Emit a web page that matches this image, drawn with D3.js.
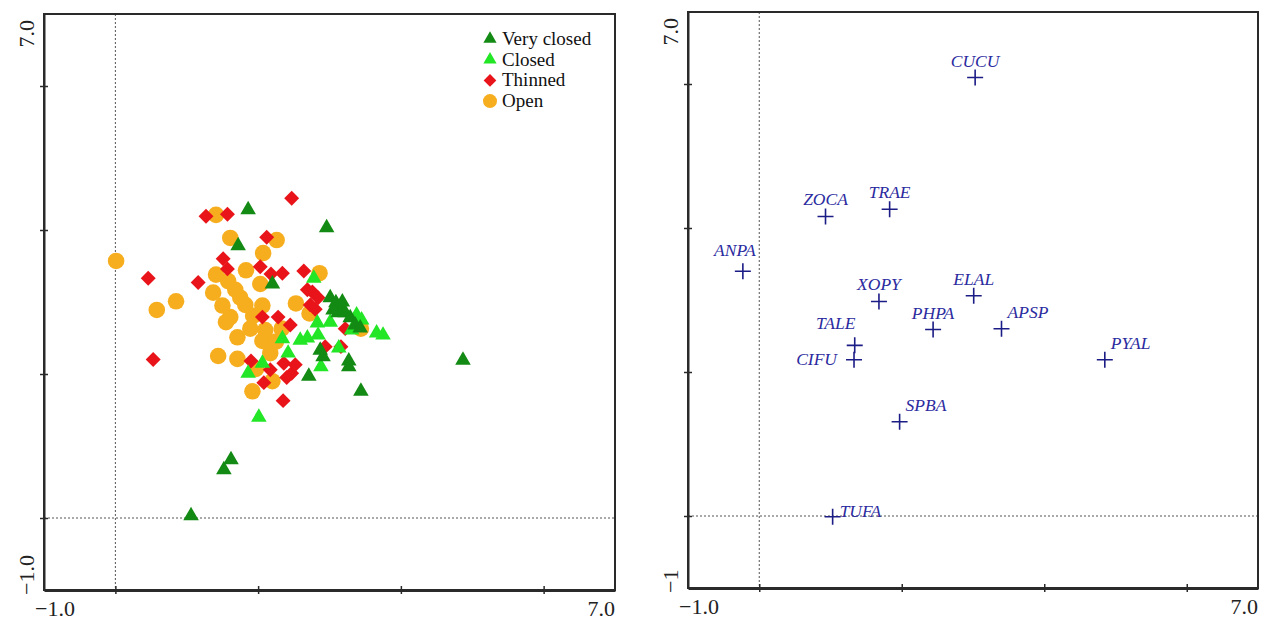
<!DOCTYPE html>
<html>
<head>
<meta charset="utf-8">
<script src="https://cdn.jsdelivr.net/npm/d3@7"></script>
<style>
  body { margin: 0; background: #fff; }
  svg { display: block; }
</style>
</head>
<body>
<div id="wrapper"></div>
<script>
// sample scores per group, [axis1, axis2]
const openPts = [
  [0.01, 3.57], [1.41, 4.21], [1.61, 3.89], [2.26, 3.86], [2.07, 3.68], [1.83, 3.44],
  [1.41, 3.38], [1.58, 3.29], [2.03, 3.25], [1.37, 3.13], [0.85, 3.01], [0.58, 2.89],
  [1.75, 3.06], [1.61, 2.79], [2.06, 2.95], [1.93, 2.81], [1.71, 2.51], [1.89, 2.63],
  [2.06, 2.46], [2.17, 2.29], [1.44, 2.25], [1.71, 2.21], [1.97, 2.07], [1.92, 1.76],
  [2.20, 1.90], [2.86, 3.40], [2.53, 2.98], [2.72, 2.84], [2.33, 2.63], [3.44, 2.63],
  [1.55, 2.72], [1.82, 2.96], [1.68, 3.17], [2.10, 2.61], [1.50, 2.95], [2.25, 2.45]
]
const thinnedPts = [
  [2.47, 4.44], [1.27, 4.19], [1.57, 4.22], [2.12, 3.90], [1.51, 3.60], [1.57, 3.46],
  [2.03, 3.49], [2.18, 3.39], [2.34, 3.40], [0.46, 3.33], [1.16, 3.27], [2.64, 3.43],
  [0.53, 2.20], [2.35, 1.63], [2.08, 1.88], [2.47, 2.01], [2.36, 2.15], [1.90, 2.18],
  [2.76, 3.14], [2.73, 2.96], [2.84, 3.06], [2.28, 2.79], [2.45, 2.68], [2.06, 2.79],
  [3.22, 2.63], [2.94, 2.38], [3.16, 2.38], [2.69, 3.17], [2.52, 2.13], [2.17, 2.06],
  [2.80, 2.90], [2.40, 1.95]
]
const closedPts = [
  [2.01, 1.40], [3.75, 2.54], [3.66, 2.57], [2.78, 3.33], [2.34, 2.49], [2.42, 2.29],
  [1.86, 2.01], [2.83, 2.71], [2.69, 2.50], [2.88, 2.10], [3.13, 2.36], [3.38, 2.82],
  [3.31, 2.61], [3.01, 2.72], [2.59, 2.47], [2.84, 2.54], [2.06, 2.15], [3.45, 2.75]
]
const veryClosedPts = [
  [1.86, 4.28], [2.96, 4.03], [1.72, 3.78], [2.20, 3.25], [4.87, 2.19], [3.44, 1.76],
  [2.71, 1.97], [3.27, 2.18], [3.27, 2.10], [1.62, 0.81], [1.52, 0.67], [1.06, 0.03],
  [3.01, 3.06], [3.09, 2.99], [3.15, 2.92], [3.22, 2.85], [3.29, 2.78], [3.12, 2.85],
  [3.36, 2.68], [3.43, 2.64], [3.05, 2.89], [2.91, 2.24], [2.87, 2.33], [3.18, 3.00]
]

// species scores
const species = ["CUCU", "ZOCA", "TRAE", "ANPA", "XOPY", "ELAL", "PHPA", "APSP", "TALE", "CIFU", "PYAL", "SPBA", "TUFA"]
const speciesX = [3.03, 0.93, 1.83, -0.23, 1.68, 3.01, 2.44, 3.40, 1.34, 1.33, 4.85, 1.97, 1.03]
const speciesY = [6.09, 4.16, 4.26, 3.40, 2.98, 3.06, 2.59, 2.60, 2.37, 2.17, 2.17, 1.31, -0.01]

const groupNames = ["Very closed", "Closed", "Thinned", "Open"]
const axisDomain = [-1, 7]
const tickValues = [0, 2, 4, 6]

// where each species label sits relative to its cross
const labelPlace = {
  CUCU: "above", ZOCA: "above", TRAE: "above", ANPA: "aboveLeft", XOPY: "above",
  ELAL: "above", PHPA: "above", APSP: "aboveRight", TALE: "aboveLeft2", CIFU: "left",
  PYAL: "aboveRight", SPBA: "aboveRight", TUFA: "right"
}

const groupStyle = {
  "Very closed": { color: "#138a13", shape: "triangle" },
  "Closed": { color: "#22e626", shape: "triangle" },
  "Thinned": { color: "#e8141a", shape: "diamond" },
  "Open": { color: "#f7ae1e", shape: "circle" },
}

const serif = "Liberation Serif"

const svg = d3.select("#wrapper").append("svg")
  .attr("width", 1263)
  .attr("height", 623)

function drawFrame(box, bottomLabels, leftLabels) {
  const xScale = d3.scaleLinear().domain(axisDomain).range([box.left, box.right])
  const yScale = d3.scaleLinear().domain(axisDomain).range([box.bottom, box.top])
  const g = svg.append("g")

  // dotted zero lines
  g.append("line")
    .attr("x1", xScale(0)).attr("x2", xScale(0))
    .attr("y1", box.top).attr("y2", box.bottom)
    .attr("stroke", "#555").attr("stroke-width", 1).attr("stroke-dasharray", "2,2")
  g.append("line")
    .attr("x1", box.left).attr("x2", box.right)
    .attr("y1", yScale(0)).attr("y2", yScale(0))
    .attr("stroke", "#555").attr("stroke-width", 1).attr("stroke-dasharray", "2,2")

  g.append("rect")
    .attr("x", box.left).attr("y", box.top)
    .attr("width", box.right - box.left).attr("height", box.bottom - box.top)
    .attr("fill", "none").attr("stroke", "#2a2a2a").attr("stroke-width", 2)

  const xAxis = g.append("g")
    .attr("transform", `translate(0,${box.bottom})`)
    .call(d3.axisBottom(xScale).tickValues(tickValues).tickFormat("").tickSize(4).tickSizeOuter(0))
  xAxis.select(".domain").attr("stroke", "#2a2a2a").attr("stroke-width", 3)
  xAxis.selectAll(".tick line").attr("y1", -4).attr("stroke", "#2a2a2a").attr("stroke-width", 1.5)

  const yAxis = g.append("g")
    .attr("transform", `translate(${box.left},0)`)
    .call(d3.axisLeft(yScale).tickValues(tickValues).tickFormat("").tickSize(4).tickSizeOuter(0))
  yAxis.select(".domain").attr("stroke", "#2a2a2a").attr("stroke-width", 2)
  yAxis.selectAll(".tick line").attr("x1", 4).attr("stroke", "#2a2a2a").attr("stroke-width", 1.5)

  // end labels
  g.append("text")
    .attr("x", box.left - 9).attr("y", box.bottom + 26)
    .attr("font-family", serif).attr("font-size", 22).attr("fill", "#222")
    .text(bottomLabels[0])
  g.append("text")
    .attr("x", box.right).attr("y", box.bottom + 26)
    .attr("text-anchor", "end")
    .attr("font-family", serif).attr("font-size", 22).attr("fill", "#222")
    .text(bottomLabels[1])
  g.append("text")
    .attr("transform", `translate(${box.left - 10},${box.top + 6}) rotate(-90)`)
    .attr("text-anchor", "end")
    .attr("font-family", serif).attr("font-size", 22).attr("fill", "#222")
    .text(leftLabels[1])
  g.append("text")
    .attr("transform", `translate(${box.left - 10},${box.bottom + 5}) rotate(-90)`)
    .attr("font-family", serif).attr("font-size", 22).attr("fill", "#222")
    .text(leftLabels[0])

  return { xScale, yScale, g }
}

// left panel: samples
const left = drawFrame({ left: 44, right: 615, top: 14, bottom: 590 }, ["\u22121.0", "7.0"], ["\u22121.0", "7.0"])

const symbolFor = (shape, scale) => {
  if (shape === "circle") return d3.symbol(d3.symbolCircle, 215 * scale)()
  if (shape === "diamond") return d3.symbol(d3.symbolSquare, 112 * scale)()
  return d3.symbol(d3.symbolTriangle, 105 * scale)()
}

const groups = [
  { name: "Open", pts: openPts },
  { name: "Thinned", pts: thinnedPts },
  { name: "Closed", pts: closedPts },
  { name: "Very closed", pts: veryClosedPts },
]

groups.forEach(grp => {
  const st = groupStyle[grp.name]
  left.g.append("g").selectAll("path")
    .data(grp.pts)
    .join("path")
    .attr("d", symbolFor(st.shape, 1))
    .attr("transform", d => `translate(${left.xScale(d[0])},${left.yScale(d[1])})${st.shape === "diamond" ? " rotate(45)" : ""}`)
    .attr("fill", st.color)
})

// legend
const legend = left.g.append("g")
groupNames.forEach((name, i) => {
  const st = groupStyle[name]
  const y = 39 + i * 20.7
  legend.append("path")
    .attr("d", symbolFor(st.shape, 0.72))
    .attr("transform", `translate(490,${y})${st.shape === "diamond" ? " rotate(45)" : ""}`)
    .attr("fill", st.color)
  legend.append("text")
    .attr("x", 502).attr("y", y + 6)
    .attr("font-family", serif).attr("font-size", 19).attr("fill", "#111")
    .text(name)
})

// right panel: species
const right = drawFrame({ left: 688, right: 1258, top: 12, bottom: 588 }, ["\u22121.0", "7.0"], ["\u22121", "7.0"])

const spData = species.map((s, i) => ({ name: s, x: speciesX[i], y: speciesY[i] }))

right.g.append("g").selectAll("path")
  .data(spData)
  .join("path")
  .attr("d", d => {
    const cx = right.xScale(d.x), cy = right.yScale(d.y)
    return `M${cx - 8},${cy}H${cx + 8}M${cx},${cy - 8}V${cy + 8}`
  })
  .attr("stroke", "#1c1c86")
  .attr("stroke-width", 1.6)
  .attr("fill", "none")

const placeOffset = {
  above: [0, -11, "middle"],
  aboveLeft: [-8, -15, "middle"],
  aboveLeft2: [-19, -16, "middle"],
  aboveRight: [6, -11, "start"],
  left: [-17, 5, "end"],
  right: [7, 0, "start"],
}

right.g.append("g").selectAll("text")
  .data(spData)
  .join("text")
  .attr("x", d => right.xScale(d.x) + placeOffset[labelPlace[d.name]][0])
  .attr("y", d => right.yScale(d.y) + placeOffset[labelPlace[d.name]][1])
  .attr("text-anchor", d => placeOffset[labelPlace[d.name]][2])
  .attr("font-family", serif)
  .attr("font-size", 17.5)
  .attr("font-style", "italic")
  .attr("fill", "#2b2ba0")
  .text(d => d.name)
</script>
</body>
</html>
